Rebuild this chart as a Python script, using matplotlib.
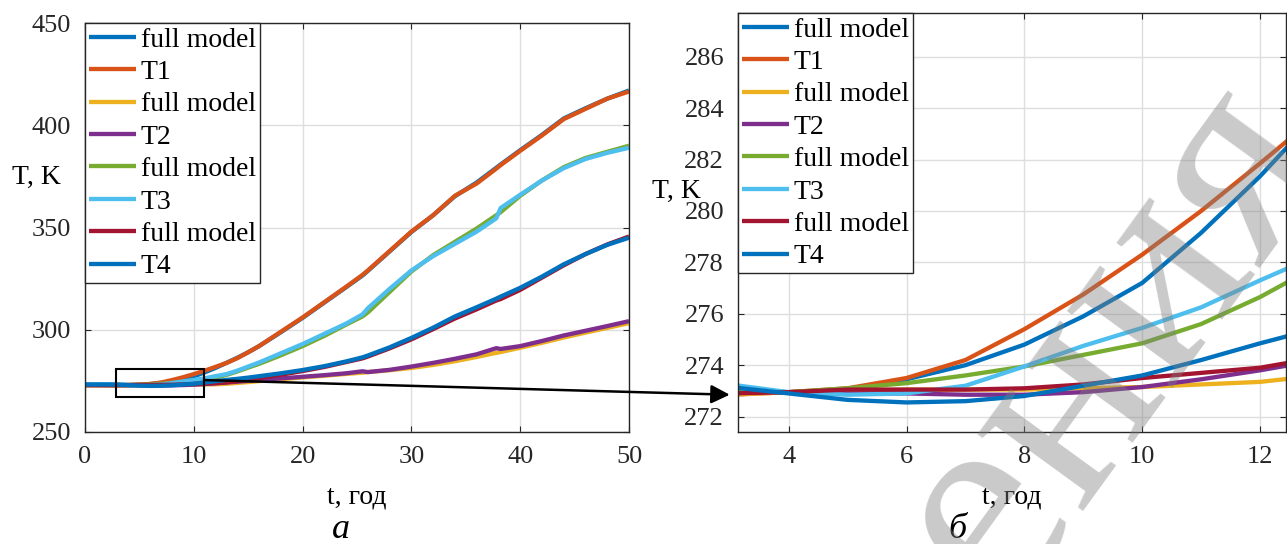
import numpy as np
import matplotlib
matplotlib.use("Agg")
import matplotlib.pyplot as plt
from matplotlib.patches import Rectangle, ConnectionPatch

plt.rcParams['font.family'] = ['Liberation Serif', 'DejaVu Serif']

# time, years
t = [0, 1, 2, 3, 4, 5, 6, 7, 8, 9, 10, 11, 12, 13, 14, 15, 16, 18, 20, 22, 24,
     25.5, 26, 28, 30, 32, 34, 36, 37.8, 38.2, 40, 42, 44, 46, 48, 50]

full1 = [273.0, 273.0, 273.0, 273.0, 272.95, 273.05, 273.45, 274.0, 274.8, 275.9, 277.2, 279.15,
         281.35, 283.8, 286.3, 289.0, 292.0, 298.8, 305.8, 313.3, 320.8, 326.5, 328.8, 338.3,
         347.8, 356.0, 365.3, 372.0, 379.2, 380.8, 387.8, 395.3, 403.3, 408.3, 413.0, 417.0]
T1 = [273.0, 273.0, 272.9, 272.85, 272.95, 273.1, 273.5, 274.2, 275.4, 276.75, 278.3, 280.0,
      281.85, 283.75, 286.1, 289.0, 292.0, 299.0, 306.0, 313.5, 321.0, 326.8, 329.0, 338.5,
      348.0, 356.0, 365.5, 371.5, 378.8, 380.5, 387.5, 395.0, 403.0, 408.0, 413.0, 416.5]
full2 = [272.9, 272.9, 272.85, 272.85, 272.95, 273.0, 273.05, 273.05, 273.05, 273.1, 273.15, 273.25,
         273.35, 273.6, 274.0, 274.4, 274.9, 275.8, 276.7, 277.5, 278.4, 279.0, 279.3, 280.2,
         281.3, 282.8, 284.6, 286.7, 288.7, 289.1, 291.2, 293.6, 296.2, 298.6, 300.9, 303.2]
T2 = [273.0, 273.0, 273.0, 272.95, 272.95, 272.9, 272.9, 272.85, 272.85, 272.95, 273.15, 273.45,
      273.8, 274.2, 274.6, 275.0, 275.4, 276.2, 277.0, 277.8, 278.7, 279.7, 279.3, 280.4,
      282.0, 283.8, 285.8, 288.0, 291.0, 290.6, 292.0, 294.5, 297.2, 299.5, 301.8, 304.2]
full3 = [273.0, 273.0, 273.0, 273.0, 272.95, 273.1, 273.3, 273.6, 273.95, 274.4, 274.85, 275.6,
         276.65, 277.9, 279.6, 281.5, 283.3, 287.5, 292.0, 297.0, 302.5, 306.5, 308.5, 318.5,
         328.5, 336.5, 343.0, 349.5, 356.0, 357.5, 365.5, 373.0, 379.5, 384.0, 387.0, 390.0]
T3 = [273.3, 273.3, 273.3, 273.25, 272.95, 272.85, 272.9, 273.2, 273.95, 274.75, 275.45, 276.25,
      277.3, 278.3, 280.0, 282.0, 284.0, 288.5, 293.0, 298.0, 303.0, 307.5, 310.5, 320.0,
      329.0, 336.0, 342.0, 348.0, 354.5, 359.5, 366.0, 373.0, 379.0, 383.5, 386.5, 389.0]
full4 = [272.9, 272.9, 272.9, 272.9, 272.95, 273.05, 273.05, 273.05, 273.1, 273.25, 273.5, 273.7,
         273.9, 274.3, 274.9, 275.6, 276.4, 278.0, 279.8, 281.8, 284.2, 286.0, 286.9, 290.9,
         295.3, 300.3, 305.5, 310.0, 314.3, 315.0, 319.5, 325.5, 331.5, 337.0, 341.7, 345.6]
T4 = [273.2, 273.2, 273.2, 273.15, 272.9, 272.65, 272.55, 272.6, 272.8, 273.2, 273.6, 274.2,
      274.85, 275.45, 276.0, 276.6, 277.3, 278.7, 280.3, 282.2, 284.5, 286.5, 287.4, 291.4,
      296.0, 301.0, 306.5, 311.0, 315.2, 316.2, 320.5, 326.0, 332.0, 337.0, 341.5, 345.0]

series = [full1, T1, full2, T2, full3, T3, full4, T4]
labels = ['full model', 'T1', 'full model', 'T2', 'full model', 'T3', 'full model', 'T4']
colors = ['#0072BD', '#D95319', '#EDB120', '#7E2F8E', '#77AC30', '#4DBEEE', '#A2142F', '#0072BD']

W, H = 1287, 544
fig = plt.figure(figsize=(W / 100, H / 100), dpi=100)


def px_axes(x0, y0, x1, y1):
    return fig.add_axes([x0 / W, 1 - y1 / H, (x1 - x0) / W, (y1 - y0) / H])


axL = px_axes(85, 23, 629, 432)
axR = px_axes(738, 13, 1286, 432)

for ax in (axL, axR):
    for y, lab, c in zip(series, labels, colors):
        ax.plot(t, y, color=c, lw=3.1, label=lab, solid_capstyle='butt')
    ax.grid(True, color='#dedede', lw=1)
    ax.set_axisbelow(True)
    ax.tick_params(direction='in', top=True, right=True, length=4, width=0.8,
                   labelsize=19, colors='0.15', pad=10)
    for s in ax.spines.values():
        s.set_color('0.15')
        s.set_linewidth(1.0)
    leg = ax.legend(loc='upper left', fontsize=20, frameon=True, fancybox=False,
                    borderaxespad=0, borderpad=0.15, handlelength=1.7,
                    handletextpad=0.15, labelspacing=0.25)
    leg.get_frame().set_edgecolor('0.15')
    leg.get_frame().set_linewidth(1.0)
    leg.get_frame().set_alpha(1)

axL.set_xlim(0, 50)
axL.set_ylim(250, 450)
axL.set_xticks(range(0, 51, 10))
axL.set_yticks(range(250, 451, 50))

axR.set_xlim(3.14, 12.44)
axR.set_ylim(271.4, 287.7)
axR.set_xticks(range(4, 13, 2))
axR.set_yticks(range(272, 287, 2))

axL.set_xlabel('t, год', fontsize=20)
axR.set_xlabel('t, год', fontsize=20)
axL.xaxis.set_label_coords(0.5, -0.128)
axR.xaxis.set_label_coords(0.5, -0.125)
axL.set_ylabel('T, K', fontsize=20, rotation=0, ha='center', va='center')
axR.set_ylabel('T, K', fontsize=20, rotation=0, ha='center', va='center')
axL.yaxis.set_label_coords(-0.090, 0.623)
axR.yaxis.set_label_coords(-0.113, 0.575)

# zoom box and arrow
axL.add_patch(Rectangle((2.85, 267.1), 8.09, 13.7, fill=False, ec='black', lw=1.5, zorder=5))
con = ConnectionPatch(xyA=(10.94, 275.4), coordsA=axL.transData,
                      xyB=(3.0, 272.85), coordsB=axR.transData,
                      arrowstyle='-|>', mutation_scale=28, lw=1.8, color='black', zorder=10)
fig.add_artist(con)

fig.text(341 / W, 1 - 530 / H, 'а', fontsize=26, style='italic', ha='center', va='center')
fig.text(957 / W, 1 - 530 / H, 'б', fontsize=26, style='italic', ha='center', va='center')

# watermark
fig.text(1112 / W, 1 - 340 / H, 'ения', rotation=54, fontsize=205, color='0.5', alpha=0.42,
         ha='center', va='center', zorder=20)

fig.savefig('out.png', dpi=100)
